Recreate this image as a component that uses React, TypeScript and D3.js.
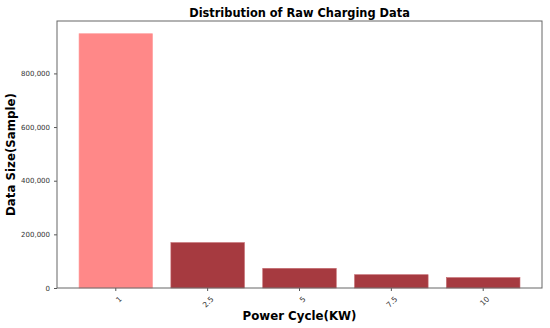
import { useEffect, useRef } from 'react'
import * as d3 from 'd3'

const categories = ['1', '2.5', '5', '7.5', '10']
const sampleCounts = [948000, 169000, 73000, 49500, 38500]
const barColors = ['#ff8888', '#a63a40', '#a63a40', '#a63a40', '#a63a40']
const yTicks = [0, 200000, 400000, 600000, 800000]

export default function App() {
  const svgRef = useRef<SVGSVGElement>(null)
  const width = 550
  const height = 328
  const margin = { top: 21, right: 8, bottom: 40, left: 57 }

  useEffect(() => {
    if (!svgRef.current) return
    const svg = d3.select(svgRef.current)
    svg.selectAll('*').remove()

    const innerWidth = width - margin.left - margin.right
    const innerHeight = height - margin.top - margin.bottom
    const font = 'DejaVu Sans, sans-serif'

    const xScale = d3.scaleBand()
      .domain(categories)
      .range([0, innerWidth])
      .paddingInner(0.2)
      .paddingOuter(0.24)

    const yScale = d3.scaleLinear()
      .domain([0, (d3.max(sampleCounts) || 1) * 1.05])
      .range([innerHeight, 0])

    const g = svg.append('g')
      .attr('transform', `translate(${margin.left},${margin.top})`)

    // Bars
    g.selectAll('.bar')
      .data(sampleCounts)
      .enter()
      .append('rect')
      .attr('class', 'bar')
      .attr('x', (_, i) => xScale(categories[i]) || 0)
      .attr('y', d => yScale(d))
      .attr('width', xScale.bandwidth())
      .attr('height', d => innerHeight - yScale(d))
      .attr('fill', (_, i) => barColors[i])
      .attr('stroke', (_, i) => (i === 0 ? '#ff9a9a' : '#c06066'))
      .attr('stroke-width', 0.6)

    // Y axis
    const yAxis = g.append('g')
      .call(d3.axisLeft(yScale).tickValues(yTicks).tickFormat(d3.format(',')).tickSize(3).tickPadding(4))
    yAxis.select('.domain').remove()
    yAxis.selectAll('line').attr('stroke', '#555')
    yAxis.selectAll('text')
      .attr('font-family', font)
      .attr('font-size', '7px')
      .attr('fill', '#333')

    // X axis
    const xAxis = g.append('g')
      .attr('transform', `translate(0,${innerHeight})`)
      .call(d3.axisBottom(xScale).tickSize(3).tickPadding(4))
    xAxis.select('.domain').remove()
    xAxis.selectAll('line').attr('stroke', '#555')
    xAxis.selectAll('text')
      .attr('font-family', font)
      .attr('font-size', '7.5px')
      .attr('fill', '#333')
      .attr('text-anchor', 'end')
      .attr('dy', '0.3em')
      .attr('transform', 'translate(0,5) rotate(-45)')

    // Frame
    g.append('rect')
      .attr('x', 0)
      .attr('y', 0)
      .attr('width', innerWidth)
      .attr('height', innerHeight)
      .attr('fill', 'none')
      .attr('stroke', '#666')
      .attr('stroke-width', 1)

    // Title
    svg.append('text')
      .attr('x', margin.left + innerWidth / 2)
      .attr('y', 17)
      .attr('text-anchor', 'middle')
      .attr('font-family', font)
      .attr('font-size', '11.4px')
      .attr('font-weight', 'bold')
      .text('Distribution of Raw Charging Data')

    // Axis labels
    svg.append('text')
      .attr('x', margin.left + innerWidth / 2)
      .attr('y', 320)
      .attr('text-anchor', 'middle')
      .attr('font-family', font)
      .attr('font-size', '11.8px')
      .attr('font-weight', 'bold')
      .text('Power Cycle(KW)')

    svg.append('text')
      .attr('transform', `translate(15,${margin.top + innerHeight / 2}) rotate(-90)`)
      .attr('text-anchor', 'middle')
      .attr('font-family', font)
      .attr('font-size', '11.8px')
      .attr('font-weight', 'bold')
      .text('Data Size(Sample)')
  }, [])

  return (
    <svg
      ref={svgRef}
      width={width}
      height={height}
      style={{ position: 'absolute', left: 0, top: 0, background: '#fff' }}
    />
  )
}
